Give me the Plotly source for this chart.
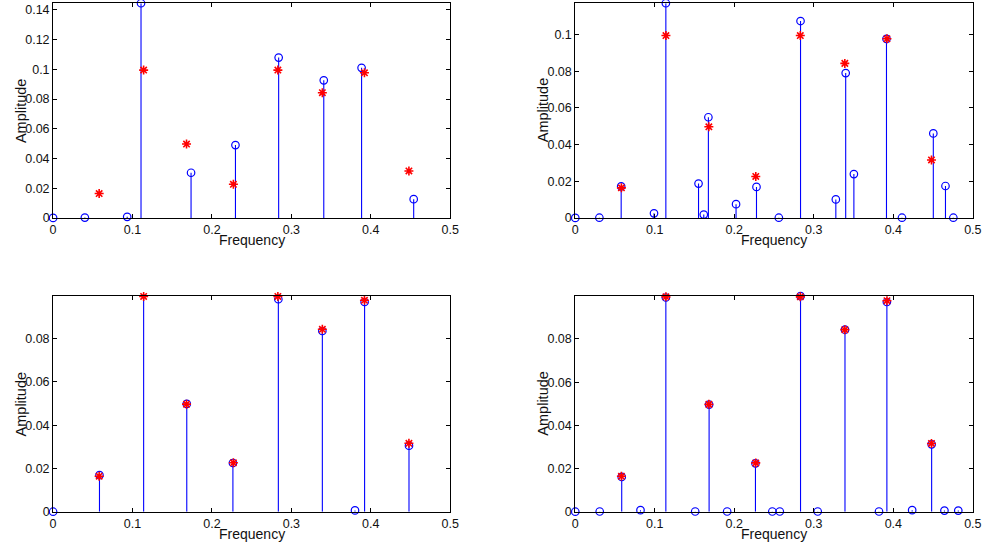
import plotly.graph_objects as go

freq_label = "Frequency"
amp_label = "Amplitude"

# true spectral lines (red stars), identical in all four panels
true_freq = [0.058, 0.114, 0.168, 0.227, 0.283, 0.339, 0.392, 0.448]
true_amp = [0.0164, 0.0995, 0.0497, 0.0226, 0.0995, 0.0843, 0.0977, 0.0316]

# estimated spectra (blue stems with circles)
est1_freq = [0.0, 0.040, 0.0933, 0.1107, 0.1737, 0.2296, 0.284, 0.3408, 0.3884, 0.454]
est1_amp = [0.0, 0.0002, 0.0007, 0.1445, 0.0304, 0.049, 0.1079, 0.0926, 0.101, 0.0126]

est2_freq = [0.0, 0.0303, 0.0577, 0.099, 0.1139, 0.155, 0.1616, 0.1674, 0.2022, 0.2279,
             0.256, 0.2833, 0.3277, 0.3401, 0.3504, 0.3914, 0.4109, 0.4503, 0.4656, 0.4755]
est2_amp = [0.0, 0.0001, 0.0172, 0.0025, 0.1171, 0.0187, 0.0018, 0.0549, 0.0075, 0.0169,
            0.0001, 0.1074, 0.0101, 0.079, 0.0239, 0.0977, 0.0001, 0.0461, 0.0174, 0.0001]

est3_freq = [0.0, 0.0584, 0.114, 0.1683, 0.2264, 0.2836, 0.339, 0.3801, 0.3922, 0.4481]
est3_amp = [0.0, 0.0169, 0.1035, 0.0498, 0.0225, 0.0982, 0.0835, 0.0006, 0.0969, 0.0305]

est4_freq = [0.0, 0.0307, 0.0584, 0.082, 0.1139, 0.1508, 0.1683, 0.191, 0.2266, 0.2478,
             0.2572, 0.2833, 0.3049, 0.3392, 0.382, 0.3919, 0.4237, 0.4482, 0.4643, 0.4817]
est4_amp = [0.0, 0.0001, 0.0161, 0.0007, 0.0992, 0.0001, 0.0496, 0.0001, 0.0224, 0.0001,
            0.0001, 0.0998, 0.0001, 0.0843, 0.0001, 0.0971, 0.0007, 0.0312, 0.0005, 0.0005]

x_ticks = [0, 0.1, 0.2, 0.3, 0.4, 0.5]
y_ticks1 = [0, 0.02, 0.04, 0.06, 0.08, 0.1, 0.12, 0.14]
y_ticks2 = [0, 0.02, 0.04, 0.06, 0.08, 0.1]
y_ticks3 = [0, 0.02, 0.04, 0.06, 0.08]
y_ticks4 = [0, 0.02, 0.04, 0.06, 0.08]
y_tops = [0.1445, 0.1171, 0.0996, 0.0998]

panels = [
    (est1_freq, est1_amp, y_ticks1),
    (est2_freq, est2_amp, y_ticks2),
    (est3_freq, est3_amp, y_ticks3),
    (est4_freq, est4_amp, y_ticks4),
]

W, H = 992, 550
x_doms = [(50.7, 452.7), (579.3, 981.7)]
y_doms = [(3.3, 220.7), (300.0, 518.3)]

FONT = "Liberation Sans, Arial, Helvetica, sans-serif"
BLUE = "#0000ff"
RED = "#ff0000"

fig = go.Figure()
layout = dict(
    width=W, height=H,
    margin=dict(l=0, r=0, t=0, b=0),
    paper_bgcolor="white", plot_bgcolor="white",
    showlegend=False,
    font=dict(family=FONT, size=13, color="black"),
)
annotations = []

for i, (fx, fa, yt) in enumerate(panels):
    r, c = divmod(i, 2)
    n = i + 1
    xa = "x" if n == 1 else f"x{n}"
    ya = "y" if n == 1 else f"y{n}"

    sx, sy = [], []
    for f, a in zip(fx, fa):
        sx += [f, f, None]
        sy += [0, a, None]

    fig.add_trace(go.Scatter(x=sx, y=sy, mode="lines", xaxis=xa, yaxis=ya,
                             line=dict(color=BLUE, width=1.1), hoverinfo="skip"))
    fig.add_trace(go.Scatter(x=fx, y=fa, mode="markers", xaxis=xa, yaxis=ya,
                             cliponaxis=False,
                             marker=dict(symbol="circle-open", size=7.5,
                                         color=BLUE, line=dict(color=BLUE, width=1.2))))
    fig.add_trace(go.Scatter(x=true_freq, y=true_amp, mode="markers", xaxis=xa, yaxis=ya,
                             cliponaxis=False,
                             marker=dict(symbol="asterisk-open", size=7.5,
                                         color=RED, line=dict(color=RED, width=1.6))))

    x0, x1 = x_doms[c]
    y0, y1 = y_doms[r]
    axis_common = dict(showline=True, linecolor="black", linewidth=1,
                       mirror="ticks", ticks="inside", ticklen=4, tickwidth=1,
                       tickcolor="black", showgrid=False, zeroline=False,
                       tickfont=dict(family=FONT, size=12.5, color="#111111"))
    layout["xaxis" if n == 1 else f"xaxis{n}"] = dict(
        domain=[x0 / W, x1 / W], range=[0, 0.5], tickvals=x_ticks,
        anchor=ya, **axis_common)
    layout["yaxis" if n == 1 else f"yaxis{n}"] = dict(
        domain=[1 - y1 / H, 1 - y0 / H], range=[0, y_tops[i]], tickvals=yt,
        anchor=xa, **axis_common)

    annotations.append(dict(text=freq_label, xref="paper", yref="paper",
                            x=(x0 + x1) / 2 / W, y=1 - (y1 + 22.5) / H,
                            xanchor="center", yanchor="middle", showarrow=False,
                            font=dict(family=FONT, size=14, color="#111111")))
    annotations.append(dict(text=amp_label, xref="paper", yref="paper",
                            x=(x0 - 33) / W, y=1 - (y0 + y1) / 2 / H,
                            xanchor="center", yanchor="middle", showarrow=False,
                            textangle=-90,
                            font=dict(family=FONT, size=14.5, color="#111111")))

layout["annotations"] = annotations
fig.update_layout(**layout)
fig.write_html("out.html", config={"displayModeBar": False},
               post_script="document.body.style.margin='0px';document.body.style.padding='0px';document.body.style.overflow='hidden';")
